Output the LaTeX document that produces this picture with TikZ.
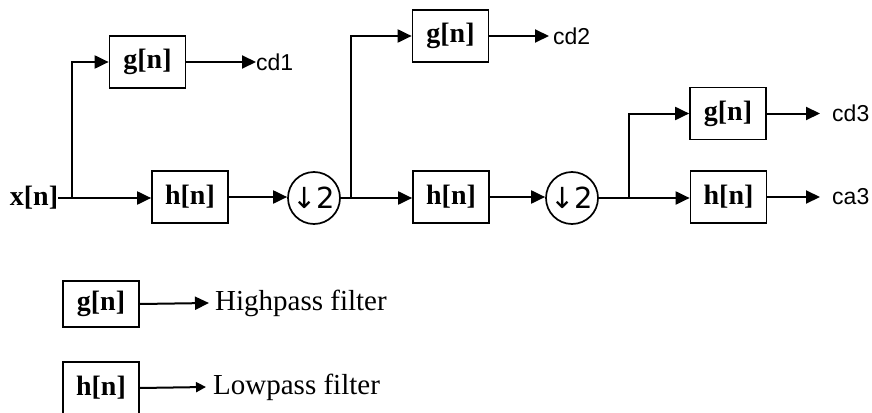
\documentclass[tikz,border=0pt]{standalone}
\usepackage{fontspec}
\setmainfont{Liberation Serif}
\newfontfamily\labfont{Liberation Sans}
\newfontfamily\arrfont{DejaVu Sans}
\usetikzlibrary{arrows.meta}
\begin{document}
\begin{tikzpicture}[x=1pt,y=-1pt,
  filt/.style={draw,line width=1.7pt,minimum width=76pt,minimum height=52pt,inner sep=0pt,font=\bfseries\fontsize{28}{30}\selectfont},
  lfilt/.style={filt,minimum height=46pt},
  dsamp/.style={draw,circle,line width=1.7pt,minimum size=52pt,inner sep=0pt,font=\arrfont\fontsize{29}{30}\selectfont},
  outlab/.style={anchor=west,inner sep=0pt,font=\labfont\fontsize{23}{25}\selectfont},
  legtxt/.style={anchor=west,inner sep=0pt,font=\fontsize{29}{32}\selectfont},
  wire/.style={line width=2pt},
  arr/.style={wire,-{Triangle[length=14pt,width=13pt]}},
  sarr/.style={wire,-{Triangle[length=10pt,width=10pt]}}
]
\useasboundingbox (0,0) rectangle (872,412);
% input
\node[inner sep=0pt,font=\bfseries\fontsize{28}{30}\selectfont] (xn) at (34,198) {x[n]};
\coordinate (j1) at (72,198);
\node[filt] (g1) at (147.5,62) {g[n]};
\node[filt] (h1) at (190,197) {h[n]};
\node[dsamp] (c1) at (314,198) {↓2};
\node[outlab] (cd1) at (256,62) {cd1};
% stage 2
\coordinate (j2) at (351,198);
\node[filt] (g2) at (450.5,36) {g[n]};
\node[filt] (h2) at (451,197) {h[n]};
\node[dsamp] (c2) at (572,198) {↓2};
\node[outlab] (cd2) at (553,36) {cd2};
% stage 3
\coordinate (j3) at (629,198);
\node[filt] (g3) at (728,113.5) {g[n]};
\node[filt] (h3) at (728.5,197) {h[n]};
\node[outlab] (cd3) at (832,113.5) {cd3};
\node[outlab] (ca3) at (832,197) {ca3};
% connectors
\draw[wire] (xn.east) -- (j1);
\draw[arr] (j1) -- (j1 -| h1.west);
\draw[arr] (j1) |- (g1.west);
\draw[arr] (g1.east) -- (cd1.west);
\draw[arr] (h1.east) -- (h1.east -| c1.west);
\draw[wire] (c1.east) -- (j2);
\draw[arr] (j2) -- (j2 -| h2.west);
\draw[arr] (j2) |- (g2.west);
\draw[arr] (g2.east) -- ([xshift=-4pt]cd2.west);
\draw[arr] (h2.east) -- (h2.east -| c2.west);
\draw[wire] (c2.east) -- (j3);
\draw[arr] (j3) -- (j3 -| h3.west);
\draw[arr] (j3) |- (g3.west);
\draw[arr] (g3.east) -- ([xshift=-12pt]cd3.west);
\draw[arr] (h3.east) -- ([xshift=-12pt]ca3.west);
% legend
\node[lfilt] (gL) at (101,304) {g[n]};
\node[legtxt] (hp) at (215,303) {Highpass filter};
\draw[arr] (gL.east) -- ([xshift=-6pt]hp.west);
\node[filt] (hL) at (101,388) {h[n]};
\node[legtxt] (lp) at (213,387) {Lowpass filter};
\draw[sarr] (hL.east) -- ([xshift=-7pt]lp.west);
\end{tikzpicture}
\end{document}
